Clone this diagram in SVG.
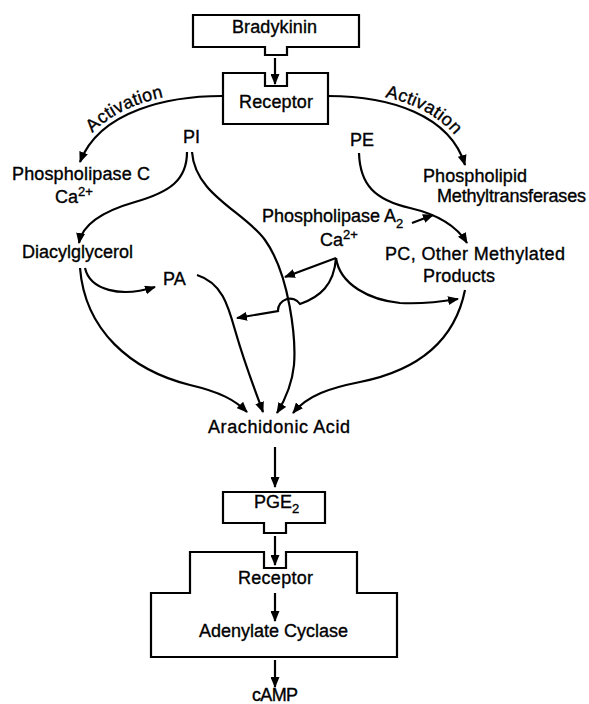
<svg xmlns="http://www.w3.org/2000/svg" width="589" height="704" viewBox="0 0 589 704">
<style>
.t{font-family:"Liberation Sans",Arial,sans-serif;font-size:18px;fill:#000;stroke:#000;stroke-width:0.35}
.s{font-size:13px}
.box{fill:#fff;stroke:#000;stroke-width:2.2;stroke-linejoin:miter}
.c{fill:none;stroke:#000;stroke-width:2.2}
.a{marker-end:url(#ah)}
</style>
<defs>
<marker id="ah" markerUnits="userSpaceOnUse" markerWidth="11" markerHeight="9" refX="10" refY="4.5" orient="auto">
<path d="M0,0 L11,4.5 L0,9 Z" fill="#000"/>
</marker>
<path id="pl" d="M80,162 C100,110 170,96 222,96"/>
<path id="pr" d="M328,96 C390,96 450,115 465,165"/>
</defs>
<rect width="589" height="704" fill="#fff"/>
<g id="bradykinin">
<path class="box" d="M193,15 H359 V47 H287 V55 H265 V47 H193 Z"/>
<text class="t" x="232" y="33" textLength="85">Bradykinin</text>
</g>
<g id="receptor1">
<path class="box" d="M223,73 H265 V86 H287 V73 H328 V124 H223 Z"/>
<text class="t" x="239" y="108" textLength="74">Receptor</text>
</g>
<g id="activation-left">
<text class="t"><textPath href="#pl" startOffset="30"><tspan dy="-5">Activation</tspan></textPath></text>
</g>
<g id="activation-right">
<text class="t"><textPath href="#pr" startOffset="56"><tspan dy="-5">Activation</tspan></textPath></text>
</g>
<g id="pi"><text class="t" x="183" y="143">PI</text></g>
<g id="pe"><text class="t" x="350" y="146">PE</text></g>
<g id="plc">
<text class="t" x="12" y="180" textLength="138">Phospholipase C</text>
<text class="t" x="55" y="203">Ca<tspan class="s" dy="-7">2+</tspan></text>
</g>
<g id="pmt">
<text class="t" x="423" y="182" textLength="104">Phospholipid</text>
<text class="t" x="437" y="202" textLength="149">Methyltransferases</text>
</g>
<g id="pla2">
<text class="t" x="262" y="222">Phospholipase A<tspan class="s" dy="6">2</tspan></text>
<text class="t" x="320" y="246">Ca<tspan class="s" dy="-7">2+</tspan></text>
</g>
<g id="pc">
<text class="t" x="385" y="260" textLength="180">PC, Other Methylated</text>
<text class="t" x="423" y="282" textLength="72">Products</text>
</g>
<g id="dag"><text class="t" x="22" y="258" textLength="111">Diacylglycerol</text></g>
<g id="pa"><text class="t" x="163" y="285">PA</text></g>
<g id="aa"><text class="t" x="208" y="433" textLength="142">Arachidonic Acid</text></g>
<g id="pge2">
<path class="box" d="M223,492 H325 V523 H286 V533 H264 V523 H223 Z"/>
<text class="t" x="254" y="508">PGE<tspan class="s" dy="5">2</tspan></text>
</g>
<g id="receptor-ac">
<path class="box" d="M190,593 V552 H264 V568 H286 V552 H357 V593 H397 V657 H151 V593 Z"/>
<text class="t" x="238" y="584" textLength="75">Receptor</text>
<text class="t" x="199" y="637" textLength="149">Adenylate Cyclase</text>
</g>
<g id="camp"><text class="t" x="252" y="701" textLength="46">cAMP</text></g>
<g id="connectors">
<path class="c a" d="M275,58 V84"/>
<path class="c a" d="M222,96 C170,96 100,110 80,162"/>
<path class="c a" d="M328,96 C390,96 450,115 465,165"/>
<path class="c a" d="M187,152 C187,180 170,192 135,202 C100,212 82,225 79,243"/>
<path class="c a" d="M192,152 C195,195 245,212 265,240 C290,275 296,340 294,365 C292,385 285,400 277,413"/>
<path class="c a" d="M85,268 C90,290 120,298 155,287"/>
<path class="c a" d="M80,268 C85,330 130,370 190,385 C220,392 235,400 247,412"/>
<path class="c a" d="M197,275 C222,283 228,305 235,330 C245,365 255,390 263,412"/>
<path class="c a" d="M465,290 C455,340 420,370 360,382 C330,388 308,395 293,413"/>
<path class="c a" d="M336,258 L285,277"/>
<path class="c a" d="M336,258 C334,285 320,297 300,304 A12,12 0 0 0 278,311 L237,318"/>
<path class="c a" d="M336,258 C340,285 370,300 400,303 C420,304 440,302 458,299"/>
<path class="c a" d="M412,223 L433,215"/>
<path class="c a" d="M359,153 C360,185 375,200 410,208 C440,215 458,228 467,243"/>
<path class="c a" d="M275,447 V487"/>
<path class="c a" d="M275,536 V565"/>
<path class="c a" d="M275,593 V621"/>
<path class="c a" d="M275,660 V687"/>
</g>
</svg>
